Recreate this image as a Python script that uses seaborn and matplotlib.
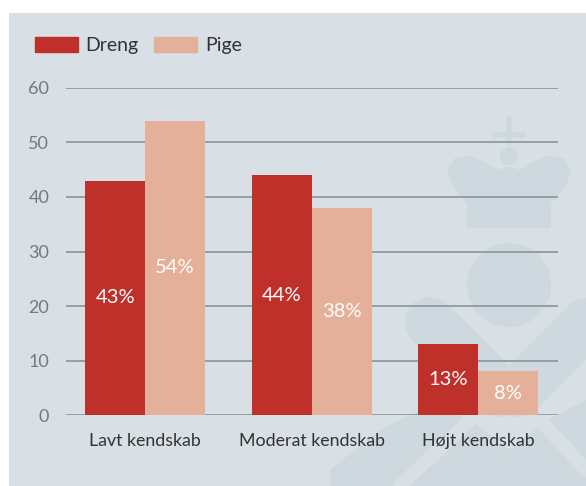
import pandas as pd
import numpy as np
import matplotlib
matplotlib.use('Agg')
import matplotlib.pyplot as plt
import matplotlib.patches as mpatches
import seaborn as sns

# data
kategorier = ['Lavt kendskab', 'Moderat kendskab', 'Højt kendskab']
dreng = [43, 44, 13]
pige = [54, 38, 8]
koen = ['Dreng', 'Pige']

df = pd.DataFrame({
    'kategori': kategorier * 2,
    'andel': dreng + pige,
    'køn': ['Dreng'] * 3 + ['Pige'] * 3,
})

rod = '#c0302a'
laks = '#e4b09a'
bg = '#d8dfe5'
wm = '#cdd8df'

sns.set_style('white')
plt.rcParams['font.family'] = ['Lato', 'DejaVu Sans']

fig = plt.figure(figsize=(5.86, 4.86), dpi=100)
fig.patch.set_facecolor('white')

# baggrund med vandmærke (pixel-koordinater)
bgax = fig.add_axes([0, 0, 1, 1], zorder=0)
bgax.set_xlim(0, 586)
bgax.set_ylim(486, 0)
bgax.axis('off')
bgax.add_patch(mpatches.Rectangle((9, 13), 577, 473, color=bg, lw=0))

# krone
bgax.plot([509, 509], [119, 143], color=wm, lw=4, solid_capstyle='round')
bgax.plot([495, 523], [135, 135], color=wm, lw=4, solid_capstyle='round')
bgax.add_patch(mpatches.Circle((509, 156), 9, color=wm, lw=0))
krone = [(467, 228), (467, 204), (452, 185), (447, 170), (455, 158), (470, 156),
         (485, 162), (498, 170), (509, 166), (520, 170), (533, 162), (548, 156),
         (563, 158), (571, 170), (566, 185), (551, 204), (551, 228)]
bgax.add_patch(mpatches.Polygon(krone, closed=True, color=wm, lw=0))
# kugle
bgax.add_patch(mpatches.Circle((509, 285), 42, color=wm, lw=0))
# hjerte-/kryds-form
bgax.plot([430, 500], [322, 392], color=wm, lw=36, solid_capstyle='round')
bgax.plot([588, 518], [322, 392], color=wm, lw=36, solid_capstyle='round')
bund = [(330, 486), (330, 470), (380, 430), (430, 405), (470, 420), (509, 450),
        (548, 420), (586, 400), (586, 486)]
bgax.add_patch(mpatches.Polygon(bund, closed=True, color=wm, lw=0))
bgax.plot([400, 470], [486, 420], color=bg, lw=10)
bgax.plot([586, 540], [470, 420], color=bg, lw=10)

# hoveddiagram
ax = fig.add_axes([0.1126, 0.146, 0.8396, 0.673], zorder=1)
ax.set_facecolor('none')
sns.barplot(data=df, x='kategori', y='andel', hue='køn', order=kategorier,
            hue_order=koen, palette=[rod, laks], width=0.72, gap=0,
            saturation=1, ax=ax, zorder=3, legend=False,
            edgecolor='none', linewidth=0)

for cont in ax.containers:
    ax.bar_label(cont, labels=[f'{int(v)}%' for v in cont.datavalues],
                 label_type='center', color='white', fontsize=14.5)

ax.set_ylim(0, 60)
ax.set_xlim(-0.475, 2.48)
ax.set_yticks(range(0, 61, 10))
ax.yaxis.grid(True, color='#8e9aa3', lw=1.3)
ax.set_axisbelow(True)
for s in ax.spines.values():
    s.set_visible(False)
ax.tick_params(axis='y', length=0, pad=12, labelsize=13, labelcolor='#6f7a82')
ax.tick_params(axis='x', length=0, pad=13, labelsize=12.8, labelcolor='#333333')
ax.set_xlabel('')
ax.set_ylabel('')

handles = [mpatches.Patch(color=rod, label='Dreng'),
           mpatches.Patch(color=laks, label='Pige')]
fig.legend(handles=handles, loc='upper left', bbox_to_anchor=(0.0597, 0.924),
           ncol=2, frameon=False, fontsize=14, handlelength=2.2, handleheight=0.8,
           handletextpad=0.4, columnspacing=0.8, labelcolor='#333333',
           borderpad=0, borderaxespad=0)

fig.savefig('out.png', dpi=100, facecolor=fig.get_facecolor())
